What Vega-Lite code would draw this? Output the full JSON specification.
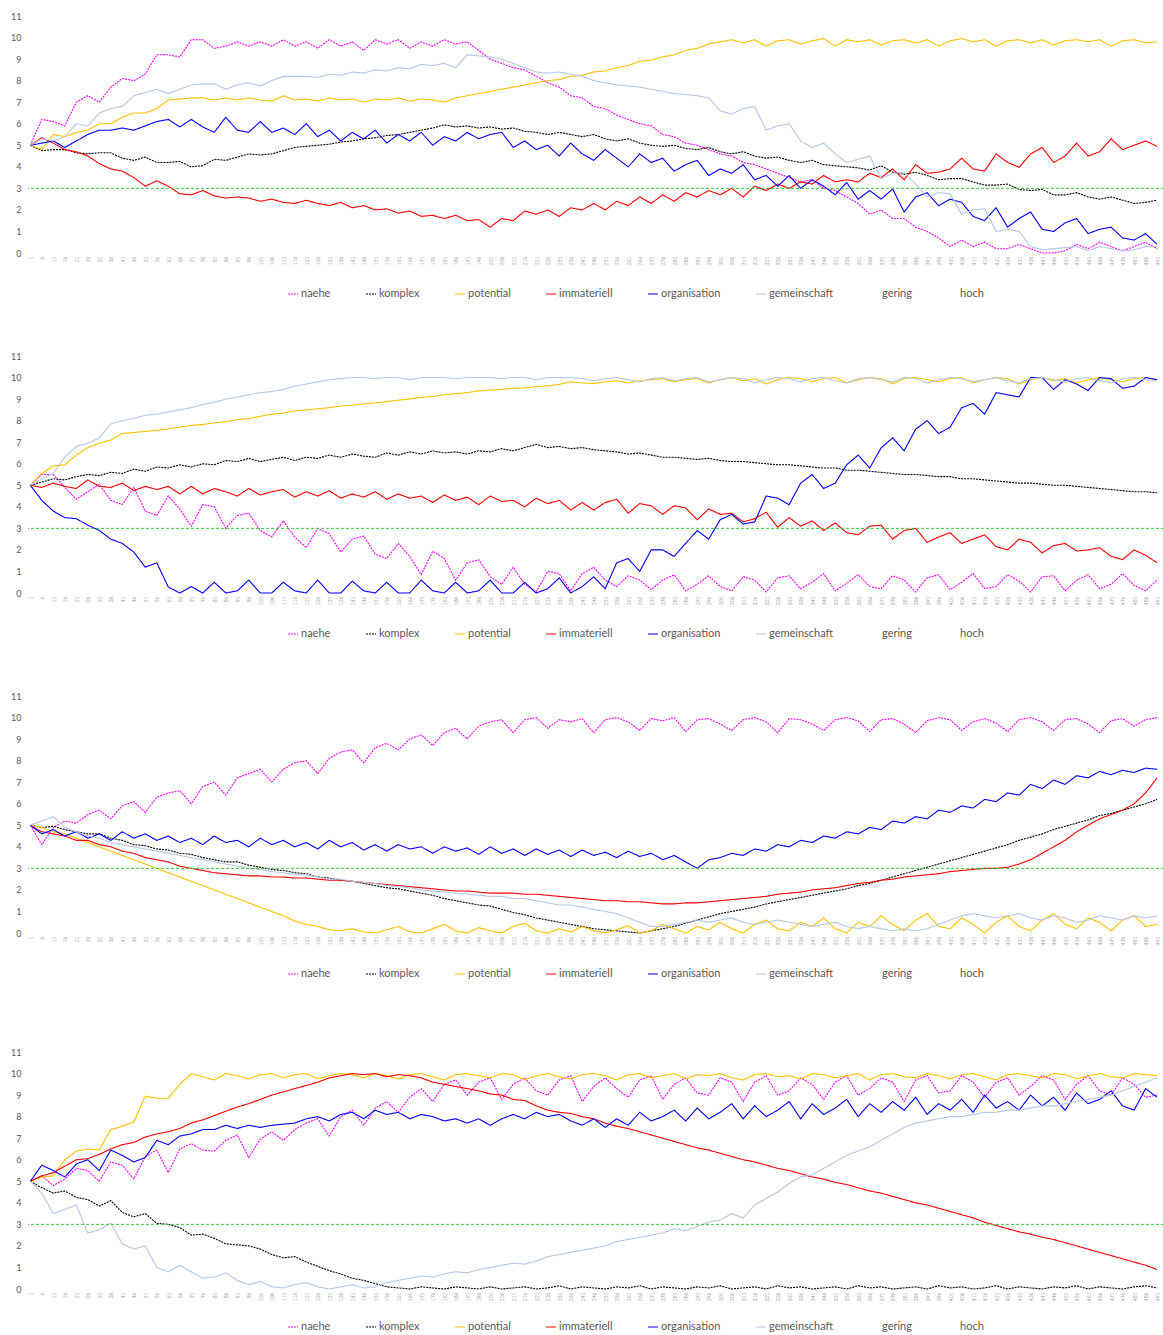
{
"$schema":"https://vega.github.io/schema/vega-lite/v6.json",
"background":"white",
"padding":{"left":0,"top":12,"right":0,"bottom":0},
"autosize":{"type":"pad"},
"spacing":69,
"config":{"view":{"stroke":null},"font":"Lato","axis":{"domain":false,"ticks":false,"grid":false,"labelColor":"#595959","labelFont":"Lato"},
"legend":{"orient":"none","legendX":259,"legendY":272,"padding":0,"direction":"horizontal","columns":8,"symbolType":"stroke","symbolSize":100,"symbolStrokeWidth":1.2,"labelFontSize":11,"labelColor":"#595959","labelFont":"Lato","columnPadding":32,"labelOffset":2}},
"resolve":{"scale":{"color":"independent","strokeDash":"independent","x":"independent","y":"independent"}},
"datasets":{"d":[
{"c":1,"x":1,"n":5,"k":5,"pt":5,"i":5,"o":5,"g":5},
{"c":1,"x":6,"n":6.2,"k":4.75,"pt":4.8,"i":5.35,"o":5.1,"g":5.3},
{"c":1,"x":11,"n":6.1,"k":4.8,"pt":5.5,"i":5.1,"o":5.2,"g":5.2},
{"c":1,"x":16,"n":5.9,"k":4.8,"pt":5.4,"i":4.8,"o":4.9,"g":5.4},
{"c":1,"x":21,"n":7,"k":4.65,"pt":5.6,"i":4.7,"o":5.2,"g":6},
{"c":1,"x":26,"n":7.3,"k":4.6,"pt":5.7,"i":4.5,"o":5.5,"g":5.9},
{"c":1,"x":31,"n":7,"k":4.65,"pt":6,"i":4.15,"o":5.7,"g":6.5},
{"c":1,"x":36,"n":7.7,"k":4.65,"pt":6,"i":3.9,"o":5.7,"g":6.7},
{"c":1,"x":41,"n":8.1,"k":4.4,"pt":6.3,"i":3.8,"o":5.8,"g":6.8},
{"c":1,"x":46,"n":8,"k":4.3,"pt":6.5,"i":3.5,"o":5.7,"g":7.3},
{"c":1,"x":51,"n":8.3,"k":4.45,"pt":6.5,"i":3.1,"o":5.9,"g":7.45},
{"c":1,"x":56,"n":9.2,"k":4.2,"pt":6.7,"i":3.35,"o":6.1,"g":7.6},
{"c":1,"x":61,"n":9.2,"k":4.2,"pt":7.1,"i":3.1,"o":6.2,"g":7.4},
{"c":1,"x":66,"n":9.1,"k":4.25,"pt":7.15,"i":2.75,"o":5.85,"g":7.6},
{"c":1,"x":71,"n":9.9,"k":4,"pt":7.2,"i":2.7,"o":6.2,"g":7.8},
{"c":1,"x":76,"n":9.9,"k":4.05,"pt":7.2,"i":2.9,"o":5.85,"g":7.85},
{"c":1,"x":81,"n":9.5,"k":4.35,"pt":7.1,"i":2.65,"o":5.6,"g":7.85},
{"c":1,"x":86,"n":9.6,"k":4.3,"pt":7.2,"i":2.55,"o":6.3,"g":7.6},
{"c":1,"x":91,"n":9.8,"k":4.45,"pt":7.1,"i":2.6,"o":5.7,"g":7.8},
{"c":1,"x":96,"n":9.6,"k":4.6,"pt":7.2,"i":2.55,"o":5.6,"g":7.9},
{"c":1,"x":101,"n":9.8,"k":4.55,"pt":7.1,"i":2.4,"o":6.1,"g":7.75},
{"c":1,"x":106,"n":9.6,"k":4.6,"pt":7.05,"i":2.5,"o":5.6,"g":8},
{"c":1,"x":111,"n":9.9,"k":4.75,"pt":7.3,"i":2.35,"o":5.8,"g":8.2},
{"c":1,"x":116,"n":9.6,"k":4.9,"pt":7.1,"i":2.3,"o":5.5,"g":8.2},
{"c":1,"x":121,"n":9.8,"k":4.95,"pt":7.15,"i":2.45,"o":6,"g":8.2},
{"c":1,"x":126,"n":9.5,"k":5,"pt":7.05,"i":2.3,"o":5.4,"g":8.15},
{"c":1,"x":131,"n":9.9,"k":5.05,"pt":7.2,"i":2.2,"o":5.7,"g":8.3},
{"c":1,"x":136,"n":9.6,"k":5.15,"pt":7.1,"i":2.35,"o":5.2,"g":8.25},
{"c":1,"x":141,"n":9.8,"k":5.2,"pt":7.15,"i":2.1,"o":5.6,"g":8.4},
{"c":1,"x":146,"n":9.4,"k":5.3,"pt":7,"i":2.2,"o":5.3,"g":8.35},
{"c":1,"x":151,"n":9.9,"k":5.35,"pt":7.15,"i":2,"o":5.7,"g":8.5},
{"c":1,"x":156,"n":9.7,"k":5.45,"pt":7.1,"i":2.05,"o":5.1,"g":8.45},
{"c":1,"x":161,"n":9.9,"k":5.5,"pt":7.2,"i":1.85,"o":5.5,"g":8.6},
{"c":1,"x":166,"n":9.5,"k":5.6,"pt":7.05,"i":1.95,"o":5.2,"g":8.55},
{"c":1,"x":171,"n":9.8,"k":5.7,"pt":7.15,"i":1.7,"o":5.6,"g":8.75},
{"c":1,"x":176,"n":9.6,"k":5.8,"pt":7.1,"i":1.75,"o":5,"g":8.7},
{"c":1,"x":181,"n":9.9,"k":5.95,"pt":7,"i":1.6,"o":5.4,"g":8.8},
{"c":1,"x":186,"n":9.7,"k":5.85,"pt":7.2,"i":1.75,"o":5.2,"g":8.6},
{"c":1,"x":191,"n":9.8,"k":5.9,"pt":7.3,"i":1.5,"o":5.6,"g":9.2},
{"c":1,"x":196,"n":9.4,"k":5.8,"pt":7.4,"i":1.55,"o":5.3,"g":9.15},
{"c":1,"x":201,"n":9,"k":5.85,"pt":7.5,"i":1.2,"o":5.5,"g":9.1},
{"c":1,"x":206,"n":8.8,"k":5.75,"pt":7.6,"i":1.6,"o":5.6,"g":9},
{"c":1,"x":211,"n":8.6,"k":5.8,"pt":7.7,"i":1.5,"o":4.9,"g":8.8},
{"c":1,"x":216,"n":8.5,"k":5.65,"pt":7.8,"i":1.95,"o":5.2,"g":8.6},
{"c":1,"x":221,"n":8.2,"k":5.6,"pt":7.9,"i":1.8,"o":4.8,"g":8.4},
{"c":1,"x":226,"n":7.9,"k":5.5,"pt":8,"i":2,"o":5,"g":8.35},
{"c":1,"x":231,"n":7.7,"k":5.6,"pt":8.05,"i":1.7,"o":4.5,"g":8.4},
{"c":1,"x":236,"n":7.3,"k":5.5,"pt":8.2,"i":2.1,"o":5.1,"g":8.3},
{"c":1,"x":241,"n":7.2,"k":5.4,"pt":8.25,"i":2,"o":4.6,"g":8.2},
{"c":1,"x":246,"n":6.8,"k":5.5,"pt":8.4,"i":2.3,"o":4.3,"g":8},
{"c":1,"x":251,"n":6.7,"k":5.3,"pt":8.45,"i":2,"o":4.8,"g":7.9},
{"c":1,"x":256,"n":6.4,"k":5.2,"pt":8.6,"i":2.4,"o":4.4,"g":7.8},
{"c":1,"x":261,"n":6.2,"k":5.3,"pt":8.7,"i":2.2,"o":4,"g":7.75},
{"c":1,"x":266,"n":6,"k":5.1,"pt":8.9,"i":2.6,"o":4.6,"g":7.7},
{"c":1,"x":271,"n":5.9,"k":5,"pt":8.95,"i":2.3,"o":4.2,"g":7.6},
{"c":1,"x":276,"n":5.5,"k":4.95,"pt":9.1,"i":2.7,"o":4.4,"g":7.5},
{"c":1,"x":281,"n":5.4,"k":5,"pt":9.2,"i":2.4,"o":3.8,"g":7.4},
{"c":1,"x":286,"n":5.1,"k":4.85,"pt":9.4,"i":2.8,"o":4.1,"g":7.35},
{"c":1,"x":291,"n":5,"k":4.8,"pt":9.5,"i":2.6,"o":4.3,"g":7.3},
{"c":1,"x":296,"n":4.8,"k":4.9,"pt":9.7,"i":2.9,"o":3.6,"g":7.2},
{"c":1,"x":301,"n":4.6,"k":4.7,"pt":9.8,"i":2.7,"o":3.9,"g":6.6},
{"c":1,"x":306,"n":4.5,"k":4.6,"pt":9.9,"i":3,"o":3.7,"g":6.45},
{"c":1,"x":311,"n":4.2,"k":4.7,"pt":9.75,"i":2.6,"o":4.1,"g":6.7},
{"c":1,"x":316,"n":4.1,"k":4.5,"pt":9.9,"i":3.1,"o":3.4,"g":6.8},
{"c":1,"x":321,"n":3.9,"k":4.4,"pt":9.6,"i":2.9,"o":3.6,"g":5.7},
{"c":1,"x":326,"n":3.7,"k":4.45,"pt":9.85,"i":3.2,"o":3.1,"g":5.9},
{"c":1,"x":331,"n":3.5,"k":4.3,"pt":9.9,"i":3,"o":3.6,"g":6},
{"c":1,"x":336,"n":3.3,"k":4.2,"pt":9.7,"i":3.3,"o":3,"g":5.2},
{"c":1,"x":341,"n":3.4,"k":4.3,"pt":9.85,"i":3.2,"o":3.4,"g":4.9},
{"c":1,"x":346,"n":3,"k":4.1,"pt":9.95,"i":3.6,"o":3.1,"g":5.1},
{"c":1,"x":351,"n":2.9,"k":4.05,"pt":9.6,"i":3.3,"o":2.7,"g":4.6},
{"c":1,"x":356,"n":2.6,"k":4,"pt":9.9,"i":3.4,"o":3.27,"g":4.2},
{"c":1,"x":361,"n":2.3,"k":3.95,"pt":9.8,"i":3.3,"o":2.5,"g":4.35},
{"c":1,"x":366,"n":1.8,"k":3.85,"pt":9.9,"i":3.7,"o":2.9,"g":4.5},
{"c":1,"x":371,"n":2,"k":4.05,"pt":9.65,"i":3.5,"o":2.5,"g":3.45},
{"c":1,"x":376,"n":1.6,"k":3.75,"pt":9.85,"i":3.9,"o":2.97,"g":3.7},
{"c":1,"x":381,"n":1.6,"k":3.65,"pt":9.9,"i":3.4,"o":1.9,"g":3.74},
{"c":1,"x":386,"n":1.2,"k":3.75,"pt":9.75,"i":4.1,"o":2.6,"g":3.2},
{"c":1,"x":391,"n":1,"k":3.6,"pt":9.9,"i":3.7,"o":2.8,"g":2.6},
{"c":1,"x":396,"n":0.7,"k":3.4,"pt":9.6,"i":3.75,"o":2.2,"g":2.8},
{"c":1,"x":401,"n":0.3,"k":3.45,"pt":9.85,"i":3.9,"o":2.5,"g":2.75},
{"c":1,"x":406,"n":0.6,"k":3.45,"pt":9.95,"i":4.4,"o":2.35,"g":1.8},
{"c":1,"x":411,"n":0.3,"k":3.3,"pt":9.8,"i":3.9,"o":1.7,"g":2},
{"c":1,"x":416,"n":0.5,"k":3.15,"pt":9.9,"i":3.8,"o":1.5,"g":2.05},
{"c":1,"x":421,"n":0.2,"k":3.15,"pt":9.6,"i":4.6,"o":2.1,"g":1},
{"c":1,"x":426,"n":0.2,"k":3.2,"pt":9.85,"i":4.2,"o":1.2,"g":1.1},
{"c":1,"x":431,"n":0.4,"k":2.95,"pt":9.9,"i":3.98,"o":1.6,"g":1},
{"c":1,"x":436,"n":0.2,"k":2.9,"pt":9.75,"i":4.6,"o":1.9,"g":0.3},
{"c":1,"x":441,"n":0,"k":2.95,"pt":9.9,"i":4.9,"o":1.1,"g":0.15},
{"c":1,"x":446,"n":0,"k":2.7,"pt":9.65,"i":4.2,"o":1,"g":0.2},
{"c":1,"x":451,"n":0.1,"k":2.7,"pt":9.85,"i":4.5,"o":1.4,"g":0.25},
{"c":1,"x":456,"n":0.4,"k":2.8,"pt":9.9,"i":5.1,"o":1.6,"g":0.3},
{"c":1,"x":461,"n":0.2,"k":2.6,"pt":9.8,"i":4.5,"o":0.9,"g":0.1},
{"c":1,"x":466,"n":0.5,"k":2.5,"pt":9.9,"i":4.7,"o":1.1,"g":0.3},
{"c":1,"x":471,"n":0.3,"k":2.6,"pt":9.6,"i":5.3,"o":1.2,"g":0.2},
{"c":1,"x":476,"n":0.1,"k":2.45,"pt":9.85,"i":4.8,"o":0.7,"g":0.1},
{"c":1,"x":481,"n":0.3,"k":2.3,"pt":9.9,"i":5,"o":0.6,"g":0.15},
{"c":1,"x":486,"n":0.5,"k":2.35,"pt":9.75,"i":5.2,"o":0.9,"g":0.3},
{"c":1,"x":491,"n":0.2,"k":2.45,"pt":9.8,"i":4.95,"o":0.4,"g":0.3},
{"c":2,"x":1,"n":5,"k":5,"pt":5,"i":5,"o":5,"g":5},
{"c":2,"x":6,"n":5.5,"k":5.15,"pt":5.55,"i":4.9,"o":4.3,"g":5.3},
{"c":2,"x":11,"n":5.5,"k":5.3,"pt":5.9,"i":5.1,"o":3.8,"g":5.55},
{"c":2,"x":16,"n":4.9,"k":5.25,"pt":5.95,"i":4.95,"o":3.5,"g":6.3},
{"c":2,"x":21,"n":4.35,"k":5.4,"pt":6.4,"i":4.85,"o":3.45,"g":6.8},
{"c":2,"x":26,"n":4.7,"k":5.5,"pt":6.75,"i":5.25,"o":3.15,"g":6.95},
{"c":2,"x":31,"n":5.05,"k":5.45,"pt":6.95,"i":4.95,"o":2.9,"g":7.2},
{"c":2,"x":36,"n":4.3,"k":5.6,"pt":7.1,"i":4.9,"o":2.5,"g":7.85},
{"c":2,"x":41,"n":4.1,"k":5.55,"pt":7.4,"i":5.1,"o":2.3,"g":8},
{"c":2,"x":46,"n":4.9,"k":5.75,"pt":7.45,"i":4.75,"o":1.9,"g":8.1},
{"c":2,"x":51,"n":3.8,"k":5.65,"pt":7.5,"i":4.95,"o":1.2,"g":8.25},
{"c":2,"x":56,"n":3.6,"k":5.85,"pt":7.55,"i":4.8,"o":1.4,"g":8.3},
{"c":2,"x":61,"n":4.5,"k":5.8,"pt":7.62,"i":4.95,"o":0.28,"g":8.4},
{"c":2,"x":66,"n":3.9,"k":5.95,"pt":7.7,"i":4.6,"o":0,"g":8.5},
{"c":2,"x":71,"n":3.1,"k":5.85,"pt":7.78,"i":4.95,"o":0.3,"g":8.6},
{"c":2,"x":76,"n":4.1,"k":6,"pt":7.82,"i":4.6,"o":0,"g":8.75},
{"c":2,"x":81,"n":4,"k":5.95,"pt":7.9,"i":4.85,"o":0.5,"g":8.85},
{"c":2,"x":86,"n":3,"k":6.15,"pt":7.95,"i":4.7,"o":0,"g":9},
{"c":2,"x":91,"n":3.6,"k":6.1,"pt":8.05,"i":4.5,"o":0.1,"g":9.1},
{"c":2,"x":96,"n":3.7,"k":6.25,"pt":8.1,"i":4.85,"o":0.6,"g":9.2},
{"c":2,"x":101,"n":2.9,"k":6.1,"pt":8.2,"i":4.55,"o":0,"g":9.3},
{"c":2,"x":106,"n":2.6,"k":6.2,"pt":8.3,"i":4.7,"o":0,"g":9.35},
{"c":2,"x":111,"n":3.35,"k":6.3,"pt":8.35,"i":4.8,"o":0.5,"g":9.45},
{"c":2,"x":116,"n":2.6,"k":6.15,"pt":8.45,"i":4.45,"o":0.1,"g":9.6},
{"c":2,"x":121,"n":2.1,"k":6.3,"pt":8.5,"i":4.7,"o":0,"g":9.7},
{"c":2,"x":126,"n":3,"k":6.25,"pt":8.55,"i":4.5,"o":0.6,"g":9.8},
{"c":2,"x":131,"n":2.75,"k":6.4,"pt":8.6,"i":4.75,"o":0,"g":9.9},
{"c":2,"x":136,"n":1.9,"k":6.3,"pt":8.68,"i":4.4,"o":0,"g":9.95},
{"c":2,"x":141,"n":2.5,"k":6.45,"pt":8.72,"i":4.6,"o":0.55,"g":10},
{"c":2,"x":146,"n":2.64,"k":6.35,"pt":8.78,"i":4.45,"o":0.1,"g":10},
{"c":2,"x":151,"n":1.8,"k":6.3,"pt":8.82,"i":4.7,"o":0,"g":9.95},
{"c":2,"x":156,"n":1.6,"k":6.5,"pt":8.88,"i":4.35,"o":0.5,"g":10},
{"c":2,"x":161,"n":2.3,"k":6.4,"pt":8.95,"i":4.6,"o":0,"g":10},
{"c":2,"x":166,"n":1.7,"k":6.55,"pt":9,"i":4.4,"o":0,"g":9.9},
{"c":2,"x":171,"n":0.85,"k":6.45,"pt":9.08,"i":4.5,"o":0.6,"g":10},
{"c":2,"x":176,"n":1.94,"k":6.6,"pt":9.12,"i":4.2,"o":0.1,"g":10},
{"c":2,"x":181,"n":1.6,"k":6.5,"pt":9.2,"i":4.55,"o":0,"g":10},
{"c":2,"x":186,"n":0.6,"k":6.55,"pt":9.25,"i":4.3,"o":0.5,"g":9.95},
{"c":2,"x":191,"n":1.4,"k":6.45,"pt":9.3,"i":4.45,"o":0,"g":10},
{"c":2,"x":196,"n":1.54,"k":6.6,"pt":9.38,"i":4.1,"o":0.1,"g":10},
{"c":2,"x":201,"n":0.76,"k":6.55,"pt":9.42,"i":4.5,"o":0.6,"g":10},
{"c":2,"x":206,"n":0.4,"k":6.7,"pt":9.45,"i":4.25,"o":0,"g":9.95},
{"c":2,"x":211,"n":1.2,"k":6.6,"pt":9.5,"i":4.3,"o":0,"g":10},
{"c":2,"x":216,"n":0.4,"k":6.75,"pt":9.52,"i":4,"o":0.5,"g":10},
{"c":2,"x":221,"n":0.05,"k":6.9,"pt":9.58,"i":4.4,"o":0,"g":9.9},
{"c":2,"x":226,"n":1,"k":6.75,"pt":9.62,"i":4.15,"o":0.2,"g":10},
{"c":2,"x":231,"n":0.9,"k":6.8,"pt":9.68,"i":4.3,"o":0.7,"g":10},
{"c":2,"x":236,"n":0.1,"k":6.7,"pt":9.8,"i":3.85,"o":0,"g":10},
{"c":2,"x":241,"n":0.9,"k":6.75,"pt":9.75,"i":4.2,"o":0.3,"g":9.95},
{"c":2,"x":246,"n":1.2,"k":6.65,"pt":9.72,"i":3.85,"o":0.75,"g":9.85},
{"c":2,"x":251,"n":0.6,"k":6.6,"pt":9.8,"i":4.2,"o":0.2,"g":9.95},
{"c":2,"x":256,"n":0.3,"k":6.55,"pt":9.85,"i":4.35,"o":1.4,"g":10},
{"c":2,"x":261,"n":0.8,"k":6.45,"pt":9.75,"i":3.7,"o":1.6,"g":9.9},
{"c":2,"x":266,"n":0.6,"k":6.5,"pt":9.85,"i":4.15,"o":1,"g":9.8},
{"c":2,"x":271,"n":0.15,"k":6.4,"pt":9.9,"i":4.05,"o":2,"g":9.95},
{"c":2,"x":276,"n":0.6,"k":6.3,"pt":9.95,"i":3.65,"o":2,"g":10},
{"c":2,"x":281,"n":0.85,"k":6.3,"pt":9.8,"i":4.05,"o":1.7,"g":9.85},
{"c":2,"x":286,"n":0.1,"k":6.25,"pt":9.9,"i":3.95,"o":2.3,"g":9.95},
{"c":2,"x":291,"n":0.4,"k":6.2,"pt":9.95,"i":3.4,"o":2.9,"g":10},
{"c":2,"x":296,"n":0.8,"k":6.25,"pt":9.75,"i":3.9,"o":2.5,"g":9.8},
{"c":2,"x":301,"n":0.3,"k":6.15,"pt":9.9,"i":3.65,"o":3.4,"g":9.9},
{"c":2,"x":306,"n":0.1,"k":6.1,"pt":10,"i":3.7,"o":3.65,"g":10},
{"c":2,"x":311,"n":0.75,"k":6.1,"pt":9.85,"i":3.3,"o":3.2,"g":9.95},
{"c":2,"x":316,"n":0.6,"k":6.05,"pt":9.95,"i":3.45,"o":3.3,"g":9.75},
{"c":2,"x":321,"n":0.05,"k":6,"pt":9.7,"i":3.75,"o":4.5,"g":9.9},
{"c":2,"x":326,"n":0.7,"k":5.95,"pt":9.9,"i":3.05,"o":4.4,"g":10},
{"c":2,"x":331,"n":0.8,"k":5.95,"pt":10,"i":3.5,"o":4.1,"g":9.95},
{"c":2,"x":336,"n":0.2,"k":5.9,"pt":9.95,"i":3.1,"o":5.1,"g":9.8},
{"c":2,"x":341,"n":0.5,"k":5.85,"pt":9.8,"i":3.35,"o":5.5,"g":9.95},
{"c":2,"x":346,"n":0.9,"k":5.8,"pt":9.95,"i":2.9,"o":4.85,"g":10},
{"c":2,"x":351,"n":0.1,"k":5.8,"pt":10,"i":3.25,"o":5.1,"g":9.85},
{"c":2,"x":356,"n":0.45,"k":5.7,"pt":9.75,"i":2.8,"o":5.95,"g":9.75},
{"c":2,"x":361,"n":0.85,"k":5.7,"pt":9.9,"i":2.7,"o":6.4,"g":9.95},
{"c":2,"x":366,"n":0.3,"k":5.65,"pt":10,"i":3.1,"o":5.8,"g":10},
{"c":2,"x":371,"n":0.2,"k":5.6,"pt":9.95,"i":3.15,"o":6.74,"g":9.9},
{"c":2,"x":376,"n":0.8,"k":5.55,"pt":9.7,"i":2.5,"o":7.2,"g":9.8},
{"c":2,"x":381,"n":0.6,"k":5.5,"pt":9.95,"i":2.9,"o":6.6,"g":10},
{"c":2,"x":386,"n":0.05,"k":5.5,"pt":10,"i":3,"o":7.6,"g":9.95},
{"c":2,"x":391,"n":0.7,"k":5.45,"pt":9.9,"i":2.35,"o":8,"g":9.75},
{"c":2,"x":396,"n":0.85,"k":5.4,"pt":9.8,"i":2.6,"o":7.4,"g":9.9},
{"c":2,"x":401,"n":0.15,"k":5.4,"pt":9.95,"i":2.8,"o":7.7,"g":10},
{"c":2,"x":406,"n":0.5,"k":5.3,"pt":10,"i":2.3,"o":8.6,"g":9.95},
{"c":2,"x":411,"n":0.9,"k":5.3,"pt":9.75,"i":2.5,"o":8.8,"g":9.8},
{"c":2,"x":416,"n":0.2,"k":5.25,"pt":9.9,"i":2.7,"o":8.3,"g":9.9},
{"c":2,"x":421,"n":0.3,"k":5.2,"pt":10,"i":2.15,"o":9.3,"g":10},
{"c":2,"x":426,"n":0.85,"k":5.15,"pt":9.95,"i":2,"o":9.2,"g":9.85},
{"c":2,"x":431,"n":0.55,"k":5.1,"pt":9.7,"i":2.5,"o":9.1,"g":9.75},
{"c":2,"x":436,"n":0.05,"k":5.1,"pt":9.9,"i":2.35,"o":10,"g":9.95},
{"c":2,"x":441,"n":0.75,"k":5.05,"pt":10,"i":1.86,"o":10,"g":10},
{"c":2,"x":446,"n":0.8,"k":5,"pt":9.85,"i":2.2,"o":9.45,"g":9.9},
{"c":2,"x":451,"n":0.1,"k":5,"pt":9.95,"i":2.3,"o":9.9,"g":9.8},
{"c":2,"x":456,"n":0.6,"k":4.95,"pt":9.75,"i":1.95,"o":9.7,"g":9.95},
{"c":2,"x":461,"n":0.85,"k":4.9,"pt":9.9,"i":2,"o":9.4,"g":10},
{"c":2,"x":466,"n":0.2,"k":4.85,"pt":10,"i":2.1,"o":10,"g":9.85},
{"c":2,"x":471,"n":0.4,"k":4.8,"pt":9.9,"i":1.7,"o":9.95,"g":9.75},
{"c":2,"x":476,"n":0.9,"k":4.75,"pt":9.8,"i":1.55,"o":9.5,"g":9.95},
{"c":2,"x":481,"n":0.35,"k":4.7,"pt":9.95,"i":2,"o":9.6,"g":10},
{"c":2,"x":486,"n":0.1,"k":4.7,"pt":10,"i":1.75,"o":10,"g":9.9},
{"c":2,"x":491,"n":0.6,"k":4.65,"pt":9.9,"i":1.4,"o":9.9,"g":9.85},
{"c":3,"x":1,"n":5,"k":5,"pt":5,"i":5,"o":5,"g":5},
{"c":3,"x":6,"n":4.1,"k":4.9,"pt":4.9,"i":4.7,"o":4.6,"g":5.2},
{"c":3,"x":11,"n":4.9,"k":4.95,"pt":4.7,"i":4.6,"o":4.8,"g":5.4},
{"c":3,"x":16,"n":5.2,"k":4.8,"pt":4.6,"i":4.5,"o":4.5,"g":4.9},
{"c":3,"x":21,"n":5.1,"k":4.7,"pt":4.4,"i":4.3,"o":4.7,"g":4.7},
{"c":3,"x":26,"n":5.5,"k":4.6,"pt":4.2,"i":4.3,"o":4.4,"g":4.5},
{"c":3,"x":31,"n":5.7,"k":4.6,"pt":4,"i":4.1,"o":4.6,"g":4.4},
{"c":3,"x":36,"n":5.3,"k":4.4,"pt":3.8,"i":4,"o":4.3,"g":4.2},
{"c":3,"x":41,"n":5.9,"k":4.3,"pt":3.6,"i":3.8,"o":4.7,"g":4.1},
{"c":3,"x":46,"n":6.1,"k":4.1,"pt":3.4,"i":3.7,"o":4.4,"g":4},
{"c":3,"x":51,"n":5.6,"k":4.05,"pt":3.2,"i":3.5,"o":4.6,"g":3.9},
{"c":3,"x":56,"n":6.3,"k":3.9,"pt":3,"i":3.4,"o":4.3,"g":3.8},
{"c":3,"x":61,"n":6.5,"k":3.85,"pt":2.8,"i":3.3,"o":4.5,"g":3.7},
{"c":3,"x":66,"n":6.6,"k":3.7,"pt":2.6,"i":3.1,"o":4.2,"g":3.6},
{"c":3,"x":71,"n":6,"k":3.65,"pt":2.4,"i":3,"o":4.4,"g":3.5},
{"c":3,"x":76,"n":6.8,"k":3.5,"pt":2.2,"i":2.9,"o":4.1,"g":3.4},
{"c":3,"x":81,"n":7,"k":3.4,"pt":2,"i":2.8,"o":4.5,"g":3.3},
{"c":3,"x":86,"n":6.4,"k":3.3,"pt":1.8,"i":2.75,"o":4.2,"g":3.2},
{"c":3,"x":91,"n":7.2,"k":3.3,"pt":1.6,"i":2.7,"o":4.3,"g":3.1},
{"c":3,"x":96,"n":7.4,"k":3.15,"pt":1.4,"i":2.65,"o":4,"g":3},
{"c":3,"x":101,"n":7.6,"k":3.05,"pt":1.2,"i":2.65,"o":4.4,"g":2.95},
{"c":3,"x":106,"n":7,"k":2.95,"pt":1,"i":2.6,"o":4.1,"g":2.85},
{"c":3,"x":111,"n":7.6,"k":2.9,"pt":0.8,"i":2.6,"o":4.3,"g":2.8},
{"c":3,"x":116,"n":7.9,"k":2.8,"pt":0.55,"i":2.55,"o":4,"g":2.7},
{"c":3,"x":121,"n":8,"k":2.75,"pt":0.4,"i":2.55,"o":4.2,"g":2.7},
{"c":3,"x":126,"n":7.4,"k":2.6,"pt":0.3,"i":2.5,"o":3.9,"g":2.6},
{"c":3,"x":131,"n":8.1,"k":2.55,"pt":0.15,"i":2.45,"o":4.3,"g":2.5},
{"c":3,"x":136,"n":8.4,"k":2.45,"pt":0.1,"i":2.45,"o":4,"g":2.5},
{"c":3,"x":141,"n":8.5,"k":2.4,"pt":0.2,"i":2.4,"o":4.2,"g":2.4},
{"c":3,"x":146,"n":7.9,"k":2.3,"pt":0.05,"i":2.35,"o":3.85,"g":2.35},
{"c":3,"x":151,"n":8.6,"k":2.2,"pt":0,"i":2.3,"o":4.1,"g":2.3},
{"c":3,"x":156,"n":8.8,"k":2.1,"pt":0.15,"i":2.25,"o":3.8,"g":2.2},
{"c":3,"x":161,"n":8.5,"k":2.05,"pt":0.3,"i":2.2,"o":4.1,"g":2.15},
{"c":3,"x":166,"n":9,"k":1.95,"pt":0.05,"i":2.15,"o":3.9,"g":2.1},
{"c":3,"x":171,"n":9.2,"k":1.85,"pt":0,"i":2.1,"o":4,"g":2},
{"c":3,"x":176,"n":8.7,"k":1.75,"pt":0.2,"i":2.05,"o":3.7,"g":1.95},
{"c":3,"x":181,"n":9.3,"k":1.6,"pt":0.4,"i":2,"o":4,"g":1.9},
{"c":3,"x":186,"n":9.5,"k":1.5,"pt":0.1,"i":1.95,"o":3.8,"g":1.85},
{"c":3,"x":191,"n":9,"k":1.4,"pt":0,"i":1.95,"o":3.95,"g":1.8},
{"c":3,"x":196,"n":9.6,"k":1.3,"pt":0.25,"i":1.9,"o":3.65,"g":1.75},
{"c":3,"x":201,"n":9.8,"k":1.25,"pt":0.1,"i":1.85,"o":4,"g":1.7},
{"c":3,"x":206,"n":9.9,"k":1.1,"pt":0,"i":1.85,"o":3.7,"g":1.7},
{"c":3,"x":211,"n":9.3,"k":0.95,"pt":0.3,"i":1.85,"o":3.9,"g":1.6},
{"c":3,"x":216,"n":9.9,"k":0.85,"pt":0.45,"i":1.8,"o":3.6,"g":1.6},
{"c":3,"x":221,"n":10,"k":0.7,"pt":0.1,"i":1.8,"o":3.9,"g":1.5},
{"c":3,"x":226,"n":9.5,"k":0.6,"pt":0,"i":1.75,"o":3.65,"g":1.4},
{"c":3,"x":231,"n":9.9,"k":0.5,"pt":0.2,"i":1.7,"o":3.85,"g":1.3},
{"c":3,"x":236,"n":9.8,"k":0.4,"pt":0.05,"i":1.65,"o":3.55,"g":1.3},
{"c":3,"x":241,"n":9.95,"k":0.3,"pt":0.3,"i":1.6,"o":3.85,"g":1.2},
{"c":3,"x":246,"n":9.3,"k":0.2,"pt":0.1,"i":1.55,"o":3.6,"g":1.1},
{"c":3,"x":251,"n":9.9,"k":0.15,"pt":0,"i":1.5,"o":3.75,"g":1},
{"c":3,"x":256,"n":10,"k":0.1,"pt":0.15,"i":1.5,"o":3.5,"g":0.9},
{"c":3,"x":261,"n":9.8,"k":0.05,"pt":0.35,"i":1.45,"o":3.8,"g":0.7},
{"c":3,"x":266,"n":9.4,"k":0,"pt":0,"i":1.45,"o":3.55,"g":0.5},
{"c":3,"x":271,"n":9.95,"k":0.1,"pt":0.1,"i":1.4,"o":3.7,"g":0.3},
{"c":3,"x":276,"n":9.85,"k":0.2,"pt":0.4,"i":1.35,"o":3.4,"g":0.3},
{"c":3,"x":281,"n":10,"k":0.3,"pt":0.2,"i":1.35,"o":3.6,"g":0.4},
{"c":3,"x":286,"n":9.35,"k":0.45,"pt":0,"i":1.4,"o":3.3,"g":0.5},
{"c":3,"x":291,"n":9.9,"k":0.6,"pt":0.3,"i":1.4,"o":3,"g":0.6},
{"c":3,"x":296,"n":9.95,"k":0.75,"pt":0.15,"i":1.45,"o":3.4,"g":0.5},
{"c":3,"x":301,"n":9.7,"k":0.9,"pt":0.5,"i":1.5,"o":3.5,"g":0.6},
{"c":3,"x":306,"n":9.4,"k":1,"pt":0.2,"i":1.55,"o":3.7,"g":0.7},
{"c":3,"x":311,"n":9.9,"k":1.1,"pt":0,"i":1.6,"o":3.6,"g":0.5},
{"c":3,"x":316,"n":10,"k":1.2,"pt":0.4,"i":1.65,"o":3.9,"g":0.4},
{"c":3,"x":321,"n":9.8,"k":1.35,"pt":0.6,"i":1.7,"o":3.8,"g":0.5},
{"c":3,"x":326,"n":9.3,"k":1.45,"pt":0.2,"i":1.8,"o":4.1,"g":0.6},
{"c":3,"x":331,"n":9.95,"k":1.55,"pt":0.1,"i":1.85,"o":4,"g":0.5},
{"c":3,"x":336,"n":9.9,"k":1.65,"pt":0.5,"i":1.9,"o":4.3,"g":0.4},
{"c":3,"x":341,"n":9.7,"k":1.75,"pt":0.3,"i":2,"o":4.2,"g":0.3},
{"c":3,"x":346,"n":9.4,"k":1.85,"pt":0.7,"i":2.05,"o":4.5,"g":0.4},
{"c":3,"x":351,"n":9.9,"k":1.95,"pt":0.2,"i":2.1,"o":4.4,"g":0.5},
{"c":3,"x":356,"n":10,"k":2.05,"pt":0,"i":2.2,"o":4.7,"g":0.3},
{"c":3,"x":361,"n":9.85,"k":2.2,"pt":0.5,"i":2.3,"o":4.6,"g":0.2},
{"c":3,"x":366,"n":9.35,"k":2.3,"pt":0.3,"i":2.35,"o":4.9,"g":0.3},
{"c":3,"x":371,"n":9.9,"k":2.45,"pt":0.8,"i":2.45,"o":4.8,"g":0.2},
{"c":3,"x":376,"n":9.95,"k":2.6,"pt":0.4,"i":2.5,"o":5.2,"g":0.1},
{"c":3,"x":381,"n":9.7,"k":2.75,"pt":0.1,"i":2.6,"o":5.1,"g":0.2},
{"c":3,"x":386,"n":9.3,"k":2.9,"pt":0.6,"i":2.65,"o":5.4,"g":0.1},
{"c":3,"x":391,"n":9.85,"k":3.05,"pt":0.9,"i":2.7,"o":5.3,"g":0.2},
{"c":3,"x":396,"n":10,"k":3.2,"pt":0.3,"i":2.75,"o":5.7,"g":0.4},
{"c":3,"x":401,"n":9.9,"k":3.35,"pt":0.2,"i":2.85,"o":5.6,"g":0.6},
{"c":3,"x":406,"n":9.4,"k":3.5,"pt":0.7,"i":2.9,"o":5.9,"g":0.8},
{"c":3,"x":411,"n":9.8,"k":3.65,"pt":0.4,"i":2.95,"o":5.8,"g":0.9},
{"c":3,"x":416,"n":9.95,"k":3.8,"pt":0,"i":3,"o":6.2,"g":0.8},
{"c":3,"x":421,"n":9.75,"k":3.95,"pt":0.5,"i":3,"o":6.1,"g":0.7},
{"c":3,"x":426,"n":9.35,"k":4.1,"pt":0.8,"i":3.05,"o":6.5,"g":0.8},
{"c":3,"x":431,"n":9.9,"k":4.3,"pt":0.3,"i":3.2,"o":6.4,"g":0.9},
{"c":3,"x":436,"n":10,"k":4.45,"pt":0.1,"i":3.4,"o":6.9,"g":0.7},
{"c":3,"x":441,"n":9.8,"k":4.6,"pt":0.6,"i":3.7,"o":6.7,"g":0.6},
{"c":3,"x":446,"n":9.4,"k":4.8,"pt":0.9,"i":4,"o":7.1,"g":0.8},
{"c":3,"x":451,"n":9.9,"k":4.95,"pt":0.4,"i":4.3,"o":6.9,"g":0.7},
{"c":3,"x":456,"n":9.95,"k":5.1,"pt":0.2,"i":4.7,"o":7.3,"g":0.5},
{"c":3,"x":461,"n":9.7,"k":5.25,"pt":0.7,"i":5,"o":7.2,"g":0.6},
{"c":3,"x":466,"n":9.3,"k":5.45,"pt":0.5,"i":5.3,"o":7.5,"g":0.8},
{"c":3,"x":471,"n":9.85,"k":5.55,"pt":0.1,"i":5.5,"o":7.35,"g":0.7},
{"c":3,"x":476,"n":9.95,"k":5.7,"pt":0.6,"i":5.7,"o":7.55,"g":0.6},
{"c":3,"x":481,"n":9.6,"k":5.85,"pt":0.8,"i":6,"o":7.45,"g":0.8},
{"c":3,"x":486,"n":9.9,"k":6,"pt":0.3,"i":6.5,"o":7.65,"g":0.7},
{"c":3,"x":491,"n":10,"k":6.2,"pt":0.4,"i":7.2,"o":7.6,"g":0.8},
{"c":4,"x":1,"n":5,"k":5,"pt":5,"i":5,"o":5,"g":5},
{"c":4,"x":6,"n":5.25,"k":4.7,"pt":5.2,"i":5.25,"o":5.75,"g":4.45},
{"c":4,"x":11,"n":4.8,"k":4.45,"pt":5.25,"i":5.4,"o":5.5,"g":3.5},
{"c":4,"x":16,"n":5.1,"k":4.55,"pt":6,"i":5.7,"o":5.2,"g":3.7},
{"c":4,"x":21,"n":5.6,"k":4.25,"pt":6.4,"i":6,"o":5.8,"g":3.9},
{"c":4,"x":26,"n":5.5,"k":4.15,"pt":6.5,"i":6.05,"o":6,"g":2.6},
{"c":4,"x":31,"n":5,"k":3.85,"pt":6.45,"i":6.25,"o":5.5,"g":2.75},
{"c":4,"x":36,"n":5.9,"k":4.1,"pt":7.4,"i":6.5,"o":6.45,"g":3.05},
{"c":4,"x":41,"n":5.75,"k":3.55,"pt":7.55,"i":6.7,"o":6.2,"g":2.1},
{"c":4,"x":46,"n":5.1,"k":3.35,"pt":7.75,"i":6.8,"o":5.9,"g":1.85},
{"c":4,"x":51,"n":6.15,"k":3.5,"pt":8.95,"i":7.05,"o":6.1,"g":2},
{"c":4,"x":56,"n":6.45,"k":3.05,"pt":8.85,"i":7.2,"o":6.9,"g":1},
{"c":4,"x":61,"n":5.4,"k":3,"pt":8.85,"i":7.3,"o":6.7,"g":0.8},
{"c":4,"x":66,"n":6.5,"k":2.85,"pt":9.5,"i":7.45,"o":7.1,"g":1.1},
{"c":4,"x":71,"n":6.75,"k":2.5,"pt":10,"i":7.7,"o":7.2,"g":0.8},
{"c":4,"x":76,"n":6.45,"k":2.55,"pt":9.85,"i":7.85,"o":7.4,"g":0.5},
{"c":4,"x":81,"n":6.4,"k":2.35,"pt":9.7,"i":8.05,"o":7.4,"g":0.55},
{"c":4,"x":86,"n":6.9,"k":2.1,"pt":10,"i":8.25,"o":7.6,"g":0.75},
{"c":4,"x":91,"n":7.15,"k":2.05,"pt":9.9,"i":8.45,"o":7.45,"g":0.4},
{"c":4,"x":96,"n":6.1,"k":2,"pt":9.75,"i":8.6,"o":7.6,"g":0.2},
{"c":4,"x":101,"n":6.95,"k":1.85,"pt":9.95,"i":8.8,"o":7.5,"g":0.35},
{"c":4,"x":106,"n":7.3,"k":1.6,"pt":10,"i":9,"o":7.6,"g":0.1},
{"c":4,"x":111,"n":6.9,"k":1.45,"pt":9.8,"i":9.15,"o":7.65,"g":0.05},
{"c":4,"x":116,"n":7.4,"k":1.5,"pt":9.95,"i":9.3,"o":7.7,"g":0.2},
{"c":4,"x":121,"n":7.7,"k":1.25,"pt":10,"i":9.45,"o":7.9,"g":0.3},
{"c":4,"x":126,"n":7.9,"k":1.05,"pt":9.75,"i":9.6,"o":8,"g":0.1},
{"c":4,"x":131,"n":7.1,"k":0.85,"pt":9.9,"i":9.8,"o":7.8,"g":0},
{"c":4,"x":136,"n":8,"k":0.7,"pt":10,"i":9.9,"o":8.1,"g":0.1},
{"c":4,"x":141,"n":8.3,"k":0.5,"pt":9.95,"i":10,"o":8.2,"g":0.2},
{"c":4,"x":146,"n":7.6,"k":0.4,"pt":9.8,"i":9.95,"o":7.9,"g":0.05},
{"c":4,"x":151,"n":8.4,"k":0.25,"pt":10,"i":10,"o":8.3,"g":0.1},
{"c":4,"x":156,"n":8.7,"k":0.1,"pt":9.9,"i":9.85,"o":8.1,"g":0.3},
{"c":4,"x":161,"n":8.2,"k":0.05,"pt":9.75,"i":9.95,"o":8.2,"g":0.4},
{"c":4,"x":166,"n":8.9,"k":0,"pt":9.95,"i":9.9,"o":7.9,"g":0.5},
{"c":4,"x":171,"n":9.3,"k":0.1,"pt":10,"i":9.8,"o":8.1,"g":0.6},
{"c":4,"x":176,"n":8.7,"k":0.05,"pt":9.85,"i":9.6,"o":8,"g":0.55},
{"c":4,"x":181,"n":9.5,"k":0,"pt":9.7,"i":9.5,"o":7.8,"g":0.7},
{"c":4,"x":186,"n":9.7,"k":0.1,"pt":9.95,"i":9.4,"o":7.9,"g":0.8},
{"c":4,"x":191,"n":9,"k":0.05,"pt":10,"i":9.3,"o":7.7,"g":0.75},
{"c":4,"x":196,"n":9.6,"k":0,"pt":9.9,"i":9.2,"o":7.9,"g":0.9},
{"c":4,"x":201,"n":9.8,"k":0.1,"pt":9.8,"i":9.05,"o":7.6,"g":1},
{"c":4,"x":206,"n":8.8,"k":0,"pt":10,"i":9,"o":7.9,"g":1.1},
{"c":4,"x":211,"n":9.5,"k":0.05,"pt":9.95,"i":8.8,"o":8.1,"g":1.2},
{"c":4,"x":216,"n":9.8,"k":0.1,"pt":9.7,"i":8.75,"o":7.9,"g":1.15},
{"c":4,"x":221,"n":9.2,"k":0,"pt":9.9,"i":8.5,"o":8.2,"g":1.3},
{"c":4,"x":226,"n":9,"k":0.05,"pt":10,"i":8.3,"o":8,"g":1.5},
{"c":4,"x":231,"n":9.7,"k":0.15,"pt":9.85,"i":8.2,"o":8.1,"g":1.6},
{"c":4,"x":236,"n":9.9,"k":0,"pt":9.75,"i":8.15,"o":7.8,"g":1.7},
{"c":4,"x":241,"n":8.7,"k":0.1,"pt":9.95,"i":8,"o":7.6,"g":1.8},
{"c":4,"x":246,"n":9.4,"k":0.05,"pt":10,"i":7.9,"o":7.9,"g":1.9},
{"c":4,"x":251,"n":9.8,"k":0,"pt":9.9,"i":7.7,"o":7.5,"g":2},
{"c":4,"x":256,"n":9.3,"k":0.1,"pt":9.7,"i":7.55,"o":7.9,"g":2.2},
{"c":4,"x":261,"n":8.9,"k":0.05,"pt":9.95,"i":7.45,"o":7.6,"g":2.3},
{"c":4,"x":266,"n":9.7,"k":0.15,"pt":10,"i":7.3,"o":8.2,"g":2.4},
{"c":4,"x":271,"n":9.9,"k":0,"pt":9.8,"i":7.15,"o":7.8,"g":2.5},
{"c":4,"x":276,"n":8.8,"k":0.1,"pt":9.9,"i":7,"o":8,"g":2.6},
{"c":4,"x":281,"n":9.5,"k":0.05,"pt":10,"i":6.85,"o":8.3,"g":2.8},
{"c":4,"x":286,"n":9.8,"k":0,"pt":9.75,"i":6.7,"o":7.8,"g":2.7},
{"c":4,"x":291,"n":9.1,"k":0.1,"pt":9.95,"i":6.55,"o":8.4,"g":2.9},
{"c":4,"x":296,"n":9,"k":0.05,"pt":9.9,"i":6.45,"o":7.9,"g":3.1},
{"c":4,"x":301,"n":9.8,"k":0.15,"pt":10,"i":6.3,"o":8.2,"g":3.2},
{"c":4,"x":306,"n":9.6,"k":0,"pt":9.8,"i":6.15,"o":8.6,"g":3.5},
{"c":4,"x":311,"n":8.7,"k":0.05,"pt":9.7,"i":6,"o":7.9,"g":3.3},
{"c":4,"x":316,"n":9.6,"k":0.1,"pt":9.95,"i":5.9,"o":8.5,"g":3.9},
{"c":4,"x":321,"n":9.9,"k":0,"pt":10,"i":5.75,"o":8,"g":4.2},
{"c":4,"x":326,"n":9,"k":0.15,"pt":9.85,"i":5.6,"o":8.3,"g":4.5},
{"c":4,"x":331,"n":9.2,"k":0.05,"pt":9.9,"i":5.5,"o":8.7,"g":4.9},
{"c":4,"x":336,"n":9.8,"k":0.1,"pt":9.75,"i":5.35,"o":7.9,"g":5.2},
{"c":4,"x":341,"n":9.5,"k":0,"pt":10,"i":5.2,"o":8.6,"g":5.3},
{"c":4,"x":346,"n":8.8,"k":0.05,"pt":9.95,"i":5.1,"o":8.1,"g":5.6},
{"c":4,"x":351,"n":9.6,"k":0.1,"pt":9.8,"i":4.95,"o":8.4,"g":5.9},
{"c":4,"x":356,"n":9.9,"k":0,"pt":9.9,"i":4.85,"o":8.8,"g":6.2},
{"c":4,"x":361,"n":9,"k":0.15,"pt":10,"i":4.7,"o":8,"g":6.4},
{"c":4,"x":366,"n":9.3,"k":0.05,"pt":9.7,"i":4.55,"o":8.6,"g":6.6},
{"c":4,"x":371,"n":9.8,"k":0.1,"pt":9.95,"i":4.45,"o":8.2,"g":6.9},
{"c":4,"x":376,"n":9.6,"k":0,"pt":10,"i":4.3,"o":8.7,"g":7.2},
{"c":4,"x":381,"n":8.7,"k":0.05,"pt":9.85,"i":4.15,"o":8.3,"g":7.5},
{"c":4,"x":386,"n":9.7,"k":0.1,"pt":9.8,"i":4,"o":8.9,"g":7.7},
{"c":4,"x":391,"n":9.9,"k":0,"pt":10,"i":3.9,"o":8.1,"g":7.8},
{"c":4,"x":396,"n":9.1,"k":0.15,"pt":9.9,"i":3.75,"o":8.6,"g":7.9},
{"c":4,"x":401,"n":9.2,"k":0.05,"pt":9.75,"i":3.6,"o":8.3,"g":8},
{"c":4,"x":406,"n":9.9,"k":0.1,"pt":9.95,"i":3.45,"o":8.8,"g":8},
{"c":4,"x":411,"n":9.6,"k":0,"pt":10,"i":3.3,"o":8.2,"g":8.1},
{"c":4,"x":416,"n":8.9,"k":0.05,"pt":9.85,"i":3.1,"o":9,"g":8.2},
{"c":4,"x":421,"n":9.6,"k":0.15,"pt":9.7,"i":2.95,"o":8.4,"g":8.2},
{"c":4,"x":426,"n":9.8,"k":0,"pt":9.95,"i":2.8,"o":8.7,"g":8.3},
{"c":4,"x":431,"n":9,"k":0.1,"pt":10,"i":2.65,"o":8.3,"g":8.3},
{"c":4,"x":436,"n":9.4,"k":0.05,"pt":9.9,"i":2.55,"o":9,"g":8.4},
{"c":4,"x":441,"n":9.9,"k":0,"pt":9.8,"i":2.4,"o":8.5,"g":8.5},
{"c":4,"x":446,"n":9.7,"k":0.1,"pt":10,"i":2.3,"o":8.9,"g":8.5},
{"c":4,"x":451,"n":8.8,"k":0.05,"pt":9.95,"i":2.15,"o":8.3,"g":8.6},
{"c":4,"x":456,"n":9.5,"k":0.15,"pt":9.75,"i":2,"o":9.1,"g":8.7},
{"c":4,"x":461,"n":9.9,"k":0,"pt":9.9,"i":1.85,"o":8.6,"g":8.8},
{"c":4,"x":466,"n":9.2,"k":0.1,"pt":10,"i":1.7,"o":8.8,"g":8.9},
{"c":4,"x":471,"n":9,"k":0.05,"pt":9.85,"i":1.55,"o":9.2,"g":9},
{"c":4,"x":476,"n":9.8,"k":0,"pt":9.8,"i":1.4,"o":8.5,"g":9.2},
{"c":4,"x":481,"n":9.5,"k":0.1,"pt":10,"i":1.25,"o":8.3,"g":9.4},
{"c":4,"x":486,"n":8.9,"k":0.15,"pt":9.95,"i":1.1,"o":9.3,"g":9.6},
{"c":4,"x":491,"n":9,"k":0.05,"pt":9.9,"i":0.9,"o":8.9,"g":9.8}
]},
"vconcat":[
{"spacing":53,"resolve":{"scale":{"color":"independent","strokeDash":"independent","x":"independent","y":"independent"}},"vconcat":[
{"width":1136,"height":237,"layer":[
{"data":{"name":"d"},"transform":[{"filter":"datum.c == 1"},{"fold":["n","k","pt","i","o","g"],"as":["s","v"]}],
"mark":{"type":"line","strokeWidth":1.1},
"encoding":{
"x":{"field":"x","type":"quantitative","scale":{"domain":[0,494],"nice":false,"zero":false},"axis":{"values":[1,6,11,16,21,26,31,36,41,46,51,56,61,66,71,76,81,86,91,96,101,106,111,116,121,126,131,136,141,146,151,156,161,166,171,176,181,186,191,196,201,206,211,216,221,226,231,236,241,246,251,256,261,266,271,276,281,286,291,296,301,306,311,316,321,326,331,336,341,346,351,356,361,366,371,376,381,386,391,396,401,406,411,416,421,426,431,436,441,446,451,456,461,466,471,476,481,486,491],"labelAngle":-90,"labelFontSize":5,"labelColor":"#a6a6a6","labelPadding":3,"title":null,"minExtent":12,"maxExtent":12,"labelOverlap":false,"labelFlush":false,"labelBound":false}},
"y":{"field":"v","type":"quantitative","scale":{"domain":[0,11],"nice":false},"axis":{"values":[0,1,2,3,4,5,6,7,8,9,10,11],"labelFontSize":9,"labelPadding":7,"labelOverlap":false,"title":null,"minExtent":28,"maxExtent":28}},
"color":{"field":"s","type":"nominal","scale":{"domain":["n","k","pt","i","o","g","ge","ho"],"range":["#ff00ff","#000000","#ffc000","#ff0000","#0000ff","#b4c7e7","transparent","transparent"]},"legend":{"title":null,"orient":"none","legendX":259,"legendY":272,"labelExpr":"datum.label == 'n' ? 'naehe' : datum.label == 'k' ? 'komplex' : datum.label == 'pt' ? 'potential' : datum.label == 'i' ? 'immateriell' : datum.label == 'o' ? 'organisation' : datum.label == 'g' ? 'gemeinschaft' : datum.label == 'ge' ? 'gering' : 'hoch'"}},
"strokeDash":{"field":"s","type":"nominal","scale":{"domain":["n","k","pt","i","o","g","ge","ho"],"range":[[2,1],[2,1],[1,0],[1,0],[1,0],[1,0],[1,0],[1,0]]},"legend":{"title":null,"orient":"none","legendX":259,"legendY":272,"labelExpr":"datum.label == 'n' ? 'naehe' : datum.label == 'k' ? 'komplex' : datum.label == 'pt' ? 'potential' : datum.label == 'i' ? 'immateriell' : datum.label == 'o' ? 'organisation' : datum.label == 'g' ? 'gemeinschaft' : datum.label == 'ge' ? 'gering' : 'hoch'"}}
}},
{"data":{"values":[{"t":3}]},"mark":{"type":"rule","color":"#33cc33","strokeDash":[3,2],"strokeWidth":1},"encoding":{"y":{"field":"t","type":"quantitative","axis":{"values":[0,1,2,3,4,5,6,7,8,9,10,11],"labelFontSize":9,"labelPadding":7,"labelOverlap":false,"title":null,"minExtent":28,"maxExtent":28}}}}
]},
{"width":1136,"height":237,"layer":[
{"data":{"name":"d"},"transform":[{"filter":"datum.c == 2"},{"fold":["n","k","pt","i","o","g"],"as":["s","v"]}],
"mark":{"type":"line","strokeWidth":1.1},
"encoding":{
"x":{"field":"x","type":"quantitative","scale":{"domain":[0,494],"nice":false,"zero":false},"axis":{"values":[1,6,11,16,21,26,31,36,41,46,51,56,61,66,71,76,81,86,91,96,101,106,111,116,121,126,131,136,141,146,151,156,161,166,171,176,181,186,191,196,201,206,211,216,221,226,231,236,241,246,251,256,261,266,271,276,281,286,291,296,301,306,311,316,321,326,331,336,341,346,351,356,361,366,371,376,381,386,391,396,401,406,411,416,421,426,431,436,441,446,451,456,461,466,471,476,481,486,491],"labelAngle":-90,"labelFontSize":5,"labelColor":"#a6a6a6","labelPadding":3,"title":null,"minExtent":12,"maxExtent":12,"labelOverlap":false,"labelFlush":false,"labelBound":false}},
"y":{"field":"v","type":"quantitative","scale":{"domain":[0,11],"nice":false},"axis":{"values":[0,1,2,3,4,5,6,7,8,9,10,11],"labelFontSize":9,"labelPadding":7,"labelOverlap":false,"title":null,"minExtent":28,"maxExtent":28}},
"color":{"field":"s","type":"nominal","scale":{"domain":["n","k","pt","i","o","g","ge","ho"],"range":["#ff00ff","#000000","#ffc000","#ff0000","#0000ff","#b4c7e7","transparent","transparent"]},"legend":{"title":null,"orient":"none","legendX":259,"legendY":272,"labelExpr":"datum.label == 'n' ? 'naehe' : datum.label == 'k' ? 'komplex' : datum.label == 'pt' ? 'potential' : datum.label == 'i' ? 'immateriell' : datum.label == 'o' ? 'organisation' : datum.label == 'g' ? 'gemeinschaft' : datum.label == 'ge' ? 'gering' : 'hoch'"}},
"strokeDash":{"field":"s","type":"nominal","scale":{"domain":["n","k","pt","i","o","g","ge","ho"],"range":[[2,1],[2,1],[1,0],[1,0],[1,0],[1,0],[1,0],[1,0]]},"legend":{"title":null,"orient":"none","legendX":259,"legendY":272,"labelExpr":"datum.label == 'n' ? 'naehe' : datum.label == 'k' ? 'komplex' : datum.label == 'pt' ? 'potential' : datum.label == 'i' ? 'immateriell' : datum.label == 'o' ? 'organisation' : datum.label == 'g' ? 'gemeinschaft' : datum.label == 'ge' ? 'gering' : 'hoch'"}}
}},
{"data":{"values":[{"t":3}]},"mark":{"type":"rule","color":"#33cc33","strokeDash":[3,2],"strokeWidth":1},"encoding":{"y":{"field":"t","type":"quantitative","axis":{"values":[0,1,2,3,4,5,6,7,8,9,10,11],"labelFontSize":9,"labelPadding":7,"labelOverlap":false,"title":null,"minExtent":28,"maxExtent":28}}}}
]},
{"width":1136,"height":237,"layer":[
{"data":{"name":"d"},"transform":[{"filter":"datum.c == 3"},{"fold":["n","k","pt","i","o","g"],"as":["s","v"]}],
"mark":{"type":"line","strokeWidth":1.1},
"encoding":{
"x":{"field":"x","type":"quantitative","scale":{"domain":[0,494],"nice":false,"zero":false},"axis":{"values":[1,6,11,16,21,26,31,36,41,46,51,56,61,66,71,76,81,86,91,96,101,106,111,116,121,126,131,136,141,146,151,156,161,166,171,176,181,186,191,196,201,206,211,216,221,226,231,236,241,246,251,256,261,266,271,276,281,286,291,296,301,306,311,316,321,326,331,336,341,346,351,356,361,366,371,376,381,386,391,396,401,406,411,416,421,426,431,436,441,446,451,456,461,466,471,476,481,486,491],"labelAngle":-90,"labelFontSize":5,"labelColor":"#a6a6a6","labelPadding":3,"title":null,"minExtent":12,"maxExtent":12,"labelOverlap":false,"labelFlush":false,"labelBound":false}},
"y":{"field":"v","type":"quantitative","scale":{"domain":[0,11],"nice":false},"axis":{"values":[0,1,2,3,4,5,6,7,8,9,10,11],"labelFontSize":9,"labelPadding":7,"labelOverlap":false,"title":null,"minExtent":28,"maxExtent":28}},
"color":{"field":"s","type":"nominal","scale":{"domain":["n","k","pt","i","o","g","ge","ho"],"range":["#ff00ff","#000000","#ffc000","#ff0000","#0000ff","#b4c7e7","transparent","transparent"]},"legend":{"title":null,"orient":"none","legendX":259,"legendY":272,"labelExpr":"datum.label == 'n' ? 'naehe' : datum.label == 'k' ? 'komplex' : datum.label == 'pt' ? 'potential' : datum.label == 'i' ? 'immateriell' : datum.label == 'o' ? 'organisation' : datum.label == 'g' ? 'gemeinschaft' : datum.label == 'ge' ? 'gering' : 'hoch'"}},
"strokeDash":{"field":"s","type":"nominal","scale":{"domain":["n","k","pt","i","o","g","ge","ho"],"range":[[2,1],[2,1],[1,0],[1,0],[1,0],[1,0],[1,0],[1,0]]},"legend":{"title":null,"orient":"none","legendX":259,"legendY":272,"labelExpr":"datum.label == 'n' ? 'naehe' : datum.label == 'k' ? 'komplex' : datum.label == 'pt' ? 'potential' : datum.label == 'i' ? 'immateriell' : datum.label == 'o' ? 'organisation' : datum.label == 'g' ? 'gemeinschaft' : datum.label == 'ge' ? 'gering' : 'hoch'"}}
}},
{"data":{"values":[{"t":3}]},"mark":{"type":"rule","color":"#33cc33","strokeDash":[3,2],"strokeWidth":1},"encoding":{"y":{"field":"t","type":"quantitative","axis":{"values":[0,1,2,3,4,5,6,7,8,9,10,11],"labelFontSize":9,"labelPadding":7,"labelOverlap":false,"title":null,"minExtent":28,"maxExtent":28}}}}
]}
]},
{"width":1136,"height":237,"layer":[
{"data":{"name":"d"},"transform":[{"filter":"datum.c == 4"},{"fold":["n","k","pt","i","o","g"],"as":["s","v"]}],
"mark":{"type":"line","strokeWidth":1.1},
"encoding":{
"x":{"field":"x","type":"quantitative","scale":{"domain":[0,494],"nice":false,"zero":false},"axis":{"values":[1,6,11,16,21,26,31,36,41,46,51,56,61,66,71,76,81,86,91,96,101,106,111,116,121,126,131,136,141,146,151,156,161,166,171,176,181,186,191,196,201,206,211,216,221,226,231,236,241,246,251,256,261,266,271,276,281,286,291,296,301,306,311,316,321,326,331,336,341,346,351,356,361,366,371,376,381,386,391,396,401,406,411,416,421,426,431,436,441,446,451,456,461,466,471,476,481,486,491],"labelAngle":-90,"labelFontSize":5,"labelColor":"#a6a6a6","labelPadding":3,"title":null,"minExtent":12,"maxExtent":12,"labelOverlap":false,"labelFlush":false,"labelBound":false}},
"y":{"field":"v","type":"quantitative","scale":{"domain":[0,11],"nice":false},"axis":{"values":[0,1,2,3,4,5,6,7,8,9,10,11],"labelFontSize":9,"labelPadding":7,"labelOverlap":false,"title":null,"minExtent":28,"maxExtent":28}},
"color":{"field":"s","type":"nominal","scale":{"domain":["n","k","pt","i","o","g","ge","ho"],"range":["#ff00ff","#000000","#ffc000","#ff0000","#0000ff","#b4c7e7","transparent","transparent"]},"legend":{"title":null,"orient":"none","legendX":259,"legendY":269,"labelExpr":"datum.label == 'n' ? 'naehe' : datum.label == 'k' ? 'komplex' : datum.label == 'pt' ? 'potential' : datum.label == 'i' ? 'immateriell' : datum.label == 'o' ? 'organisation' : datum.label == 'g' ? 'gemeinschaft' : datum.label == 'ge' ? 'gering' : 'hoch'"}},
"strokeDash":{"field":"s","type":"nominal","scale":{"domain":["n","k","pt","i","o","g","ge","ho"],"range":[[2,1],[2,1],[1,0],[1,0],[1,0],[1,0],[1,0],[1,0]]},"legend":{"title":null,"orient":"none","legendX":259,"legendY":269,"labelExpr":"datum.label == 'n' ? 'naehe' : datum.label == 'k' ? 'komplex' : datum.label == 'pt' ? 'potential' : datum.label == 'i' ? 'immateriell' : datum.label == 'o' ? 'organisation' : datum.label == 'g' ? 'gemeinschaft' : datum.label == 'ge' ? 'gering' : 'hoch'"}}
}},
{"data":{"values":[{"t":3}]},"mark":{"type":"rule","color":"#33cc33","strokeDash":[3,2],"strokeWidth":1},"encoding":{"y":{"field":"t","type":"quantitative","axis":{"values":[0,1,2,3,4,5,6,7,8,9,10,11],"labelFontSize":9,"labelPadding":7,"labelOverlap":false,"title":null,"minExtent":28,"maxExtent":28}}}}
]}
]
}
